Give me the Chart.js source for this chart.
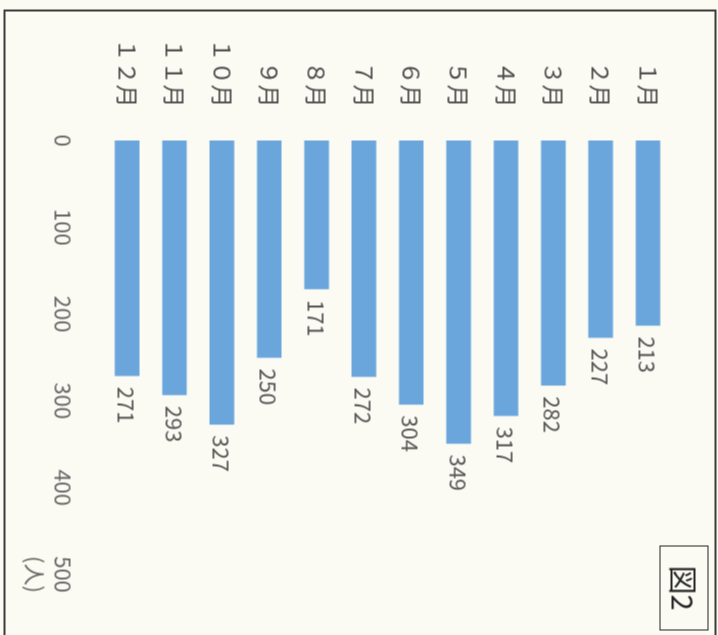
<!DOCTYPE html>
<html lang="ja">
<head>
<meta charset="utf-8">
<title>図2</title>
<script src="https://cdn.jsdelivr.net/npm/chart.js@4/dist/chart.umd.min.js"></script>
<style>
  html, body {
    margin: 0;
    padding: 0;
    width: 718px;
    height: 635px;
    overflow: hidden;
    background: #fbfbf4;
  }
  /* the scanned figure is lying on its side, so draw it upright and turn it */
  #sheet {
    position: absolute;
    left: 41.5px;
    top: -41.5px;
    width: 635px;
    height: 718px;
    transform: rotate(90deg);
    transform-origin: 50% 50%;
  }
  #frame {
    position: absolute;
    left: 9px;
    top: 2px;
    width: 640px;
    height: 709px;
    border: 2px solid #3a3a3a;
  }
  #fig-no {
    position: absolute;
    left: 545px;
    top: 10px;
    width: 83px;
    height: 47px;
    border: 1.5px solid #222;
    font: 29px "Noto Sans CJK JP", sans-serif;
    color: #222;
    line-height: 47px;
    text-align: center;
  }
  canvas { position: absolute; left: 0; top: 0; }
</style>
</head>
<body>
<div id="sheet">
  <div id="frame"></div>
  <canvas id="chart" width="635" height="718"></canvas>
  <div id="fig-no">図2</div>
</div>
<script>
// data
const months = ['１月', '２月', '３月', '４月', '５月', '６月', '７月', '８月', '９月', '１０月', '１１月', '１２月'];
const visitors = [213, 227, 282, 317, 349, 304, 272, 171, 250, 327, 293, 271];
const valueTicks = [0, 100, 200, 300, 400, 500];
const unitLabel = '(人)';

const FONT = '"Noto Sans CJK JP", "Noto Sans", sans-serif';

// prints each bar's value just past its end
const barValues = {
  id: 'barValues',
  afterDatasetsDraw(chart) {
    const ctx = chart.ctx;
    const meta = chart.getDatasetMeta(0);
    ctx.save();
    ctx.font = '22px ' + FONT;
    ctx.fillStyle = '#555';
    ctx.textAlign = 'left';
    ctx.textBaseline = 'middle';
    meta.data.forEach((bar, i) => {
      ctx.fillText(String(visitors[i]), bar.x + 11, bar.y + 1);
    });
    ctx.restore();
  }
};

new Chart(document.getElementById('chart'), {
  type: 'bar',
  data: {
    labels: months,
    datasets: [{
      data: visitors,
      backgroundColor: '#6aa6dc',
      borderWidth: 0,
      barThickness: 24
    }]
  },
  options: {
    indexAxis: 'y',
    responsive: false,
    animation: false,
    layout: { padding: { top: 31, right: 61, bottom: 0, left: 0 } },
    plugins: {
      legend: { display: false },
      tooltip: { enabled: false }
    },
    scales: {
      x: {
        min: 0,
        max: 500,
        grid: { display: false, drawTicks: false },
        border: { display: false },
        afterBuildTicks(scale) {
          scale.ticks = valueTicks.map(v => ({ value: v }));
        },
        afterFit(scale) {
          scale.height = 103;
        },
        ticks: {
          padding: 26,
          maxRotation: 0,
          color: '#666',
          font: { family: FONT, size: 22, lineHeight: 1.3 },
          callback: v => (v === 500 ? ['500', unitLabel] : String(v))
        }
      },
      y: {
        grid: { display: false, drawTicks: false },
        border: { display: false },
        afterFit(scale) {
          scale.width = 140;
        },
        ticks: {
          padding: 33,
          color: '#4a4a4a',
          font: { family: FONT, size: 23 }
        }
      }
    }
  },
  plugins: [barValues]
});
</script>
</body>
</html>
